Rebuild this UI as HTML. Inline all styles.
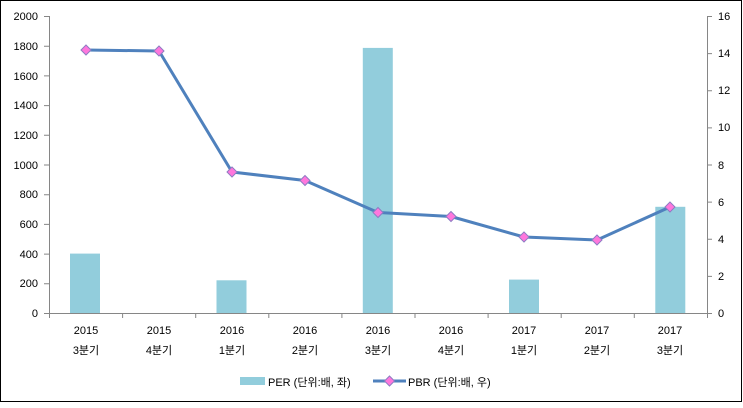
<!DOCTYPE html>
<html><head><meta charset="utf-8"><style>
body{margin:0;background:#fff}
svg text{font-family:"Liberation Sans","Noto Sans CJK KR",sans-serif;font-size:11px;fill:#000}
</style></head><body>
<svg width="743" height="403" viewBox="0 0 743 403" xmlns="http://www.w3.org/2000/svg">
<rect x="0.5" y="0.5" width="741" height="401" fill="#fff" stroke="#000"/>
<g fill="#92CDDC">
<rect x="70" y="253.6" width="30" height="59.4"/>
<rect x="216.5" y="280.3" width="30" height="32.7"/>
<rect x="362.8" y="47.9" width="30" height="265.1"/>
<rect x="509" y="279.6" width="30" height="33.4"/>
<rect x="655.3" y="206.8" width="30" height="106.2"/>
</g>
<g stroke="#868686" stroke-width="1" fill="none">
<path d="M49.5 16V313.5H707.5V16"/>
<path d="M44 16.5h5.5M44 46.2h5.5M44 75.9h5.5M44 105.6h5.5M44 135.3h5.5M44 165h5.5M44 194.7h5.5M44 224.4h5.5M44 254.1h5.5M44 283.8h5.5M44 313.5h5.5"/>
<path d="M707 16.5h5M707 53.6h5M707 90.8h5M707 127.9h5M707 165h5M707 202.1h5M707 239.3h5M707 276.4h5M707 313.5h5"/>
<path d="M122.6 313v5M195.7 313v5M268.8 313v5M341.9 313v5M415 313v5M488.1 313v5M561.2 313v5M634.3 313v5M49.5 313v5M707.5 313v5"/>
</g>
<g text-anchor="end">
<text x="38" y="20">2000</text><text x="38" y="50">1800</text><text x="38" y="80">1600</text><text x="38" y="109">1400</text><text x="38" y="139">1200</text><text x="38" y="169">1000</text><text x="38" y="198">800</text><text x="38" y="228">600</text><text x="38" y="258">400</text><text x="38" y="287">200</text><text x="38" y="317">0</text>
</g>
<g>
<text x="718" y="20">16</text><text x="718" y="57">14</text><text x="718" y="94">12</text><text x="718" y="131">10</text><text x="718" y="169">8</text><text x="718" y="206">6</text><text x="718" y="243">4</text><text x="718" y="280">2</text><text x="718" y="317">0</text>
</g>
<g text-anchor="middle">
<text x="86" y="334">2015</text><text x="86" y="354">3분기</text>
<text x="159" y="334">2015</text><text x="159" y="354">4분기</text>
<text x="232" y="334">2016</text><text x="232" y="354">1분기</text>
<text x="305" y="334">2016</text><text x="305" y="354">2분기</text>
<text x="378" y="334">2016</text><text x="378" y="354">3분기</text>
<text x="451" y="334">2016</text><text x="451" y="354">4분기</text>
<text x="524" y="334">2017</text><text x="524" y="354">1분기</text>
<text x="597" y="334">2017</text><text x="597" y="354">2분기</text>
<text x="670" y="334">2017</text><text x="670" y="354">3분기</text>
</g>
<polyline fill="none" stroke="#4F81BD" stroke-width="3" stroke-linejoin="round" points="86,50 159,51 232,172 305,180.5 378,212.5 451,216.5 524,237 597,240 670,207"/>
<g fill="#FF77DD" stroke="#8E7CC3" stroke-width="1">
<path d="M86 45l5 5-5 5-5-5z"/><path d="M159 46l5 5-5 5-5-5z"/><path d="M232 167l5 5-5 5-5-5z"/><path d="M305 175.5l5 5-5 5-5-5z"/><path d="M378 207.5l5 5-5 5-5-5z"/><path d="M451 211.5l5 5-5 5-5-5z"/><path d="M524 232l5 5-5 5-5-5z"/><path d="M597 235l5 5-5 5-5-5z"/><path d="M670 202l5 5-5 5-5-5z"/>
</g>
<rect x="240" y="377" width="25" height="8" fill="#92CDDC"/>
<text x="268" y="386">PER (단위:배, 좌)</text>
<line x1="373" y1="381" x2="406" y2="381" stroke="#4F81BD" stroke-width="3"/>
<path d="M389.5 376l5 5-5 5-5-5z" fill="#FF77DD" stroke="#8E7CC3"/>
<text x="408" y="386">PBR (단위:배, 우)</text>
</svg>
</body></html>
